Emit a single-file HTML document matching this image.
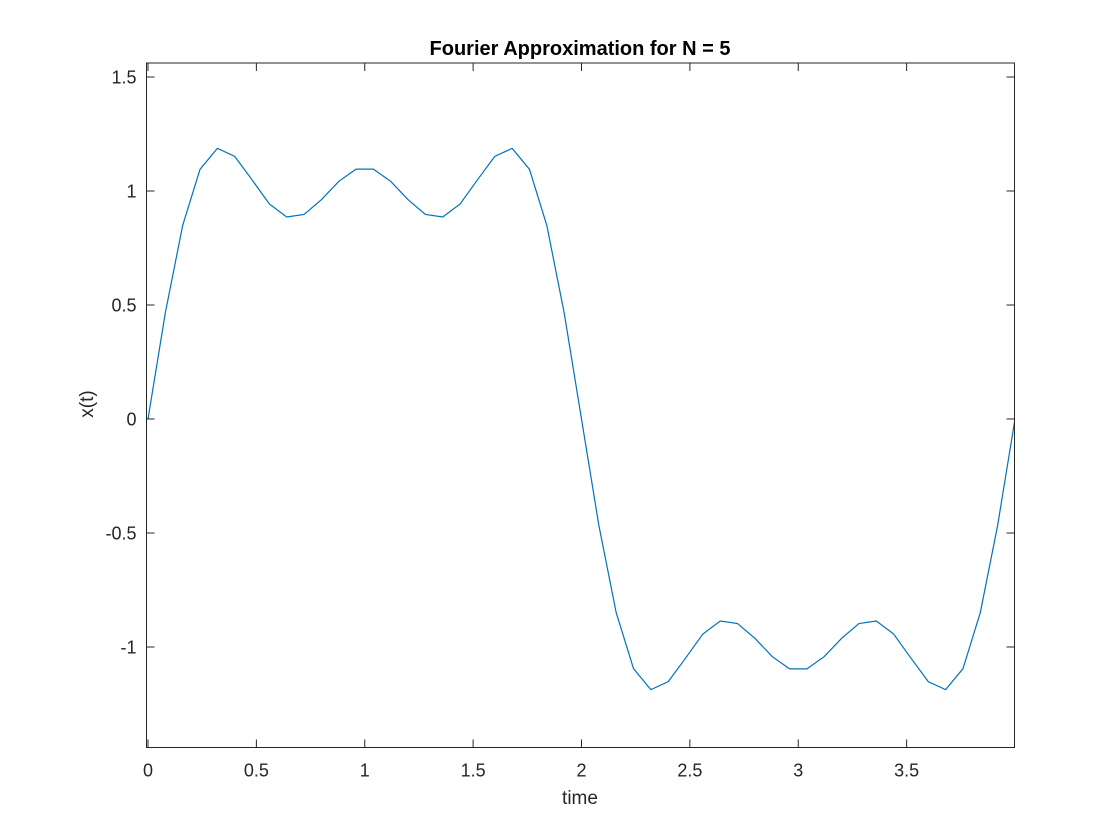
<!DOCTYPE html>
<html><head><meta charset="utf-8"><style>
html,body{margin:0;padding:0;background:#fff;}
svg{display:block;font-family:"Liberation Sans",sans-serif;}
</style></head><body>
<svg id="chart" width="1120" height="840">
<rect width="1120" height="840" fill="#fff"/>
<g id="plot"></g>
</svg>
<script>
const tStep = 0.08;
const yValues = [0,0.466,0.849,1.095,1.187,1.152,1.049,0.943,0.886,0.897,0.962,1.042,1.096,1.096,1.042,0.962,0.897,0.886,0.943,1.049,1.152,1.187,1.095,0.849,0.466,0,
-0.466,-0.849,-1.095,-1.187,-1.152,-1.049,-0.943,-0.886,-0.897,-0.962,-1.042,-1.096,-1.096,-1.042,-0.962,-0.897,-0.886,-0.943,-1.049,-1.152,-1.187,-1.095,-0.849,-0.466,0];
const xTicks = [0,0.5,1,1.5,2,2.5,3,3.5];
const xTickLabels = ["0","0.5","1","1.5","2","2.5","3","3.5"];
const yTicks = [-1,-0.5,0,0.5,1,1.5];
const yTickLabels = ["-1","-0.5","0","0.5","1","1.5"];

const L=146.5,R=1014.5,T=63,B=747.5;
const X0=148, XS=216.75;
const Y0=419, YS=228;
const sx=v=>X0+v*XS, sy=v=>Y0-v*YS;
const NS="http://www.w3.org/2000/svg";
const g=document.getElementById('plot');
function mk(tag,attrs){const e=document.createElementNS(NS,tag);for(const k in attrs)e.setAttribute(k,attrs[k]);g.appendChild(e);return e;}

const defs=document.createElementNS(NS,'defs');
defs.innerHTML='<clipPath id="clip"><rect x="'+L+'" y="'+T+'" width="'+(R-L)+'" height="'+(B-T)+'"/></clipPath>';
g.appendChild(defs);

let d='';
yValues.forEach((v,i)=>{d+=(i?'L':'M')+sx(i*tStep).toFixed(2)+','+sy(v).toFixed(2);});
const line=mk('path',{d:d,fill:'none',stroke:'#0072BD','stroke-width':1.2,'clip-path':'url(#clip)'});



const box=mk('rect',{x:L,y:T,width:R-L,height:B-T,fill:'none',stroke:'#262626','stroke-width':1});



xTicks.forEach((v,i)=>{
  const x=sx(v);
  const t1=mk('line',{x1:x,y1:B,x2:x,y2:B-8,stroke:'#262626'});
  
  
  const t2=mk('line',{x1:x,y1:T,x2:x,y2:T+8,stroke:'#262626'});
  
  
  const lb=mk('text',{x:x,y:B+29,'text-anchor':'middle','font-size':'18',fill:'#262626'});
  lb.textContent=xTickLabels[i];
  
  
});
yTicks.forEach((v,i)=>{
  const y=sy(v);
  const t1=mk('line',{x1:L,y1:y,x2:L+8,y2:y,stroke:'#262626'});
  
  
  const t2=mk('line',{x1:R,y1:y,x2:R-8,y2:y,stroke:'#262626'});
  
  
  const lb=mk('text',{x:L-10,y:y+6.5,'text-anchor':'end','font-size':'18',fill:'#262626'});
  lb.textContent=yTickLabels[i];
  
  
});
const title=mk('text',{x:580,y:55,'text-anchor':'middle','font-size':'20','font-weight':'bold',fill:'#000'});
title.textContent='Fourier Approximation for N = 5';


const xl=mk('text',{x:580,y:804,'text-anchor':'middle','font-size':'19',fill:'#262626'});
xl.textContent='time';


const yl=mk('text',{x:0,y:0,'text-anchor':'middle','font-size':'19',fill:'#262626',transform:'translate(93,404) rotate(-90)'});
yl.textContent='x(t)';


</script>
</body></html>
